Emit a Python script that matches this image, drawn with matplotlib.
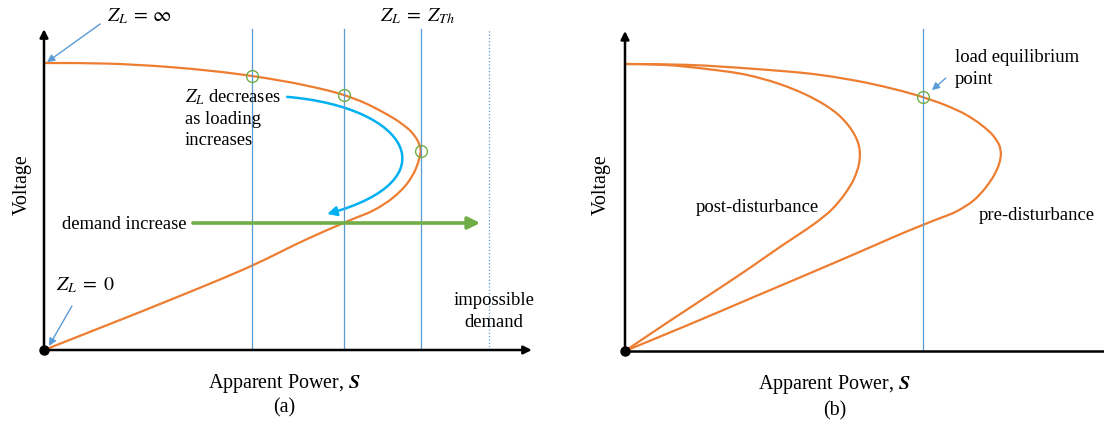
import numpy as np
import matplotlib
matplotlib.use('Agg')
import matplotlib.pyplot as plt
from matplotlib.path import Path
from matplotlib.patches import PathPatch, FancyArrowPatch

plt.rcParams['font.family'] = ['Liberation Serif', 'DejaVu Serif']
plt.rcParams['mathtext.fontset'] = 'stix'

ORANGE = '#ED7D31'
BLUE = '#5B9BD5'
GREEN = '#70AD47'
CYAN = '#00B0F0'

# PV (nose) curve, S and V in per-unit of the nose point / open-circuit voltage
pv_s = [0.0, 0.166, 0.342, 0.555, 0.697, 0.794, 0.847, 0.900,
        0.944, 0.975, 0.993, 0.999, 0.995, 0.984, 0.962, 0.927, 0.876, 0.815,
        0.760, 0.697, 0.555, 0.343, 0.166, 0.0]
pv_v = [1.0, 0.998, 0.985, 0.954, 0.921, 0.889, 0.863, 0.828,
        0.793, 0.759, 0.724, 0.698, 0.666, 0.625, 0.578, 0.532, 0.488, 0.454,
        0.423, 0.386, 0.296, 0.179, 0.086, 0.0]

# operating points marked on the upper branch
op_s = [0.553, 0.796, 0.999]
op_v = [0.955, 0.889, 0.695]
impossible_s = 1.180
demand_v = 0.4425

# panel (b): pre- and post-disturbance curves
pre_s = [0.0, 0.166, 0.342, 0.517, 0.650, 0.791, 0.853, 0.905, 0.948, 0.978,
         0.994, 0.997, 0.993, 0.980, 0.957, 0.925, 0.880, 0.820, 0.750,
         0.655, 0.560, 0.345, 0.166, 0.0]
pre_v = [1.0, 0.997, 0.983, 0.962, 0.932, 0.884, 0.855, 0.823, 0.785, 0.748,
         0.712, 0.685, 0.655, 0.615, 0.570, 0.525, 0.487, 0.455, 0.418,
         0.364, 0.310, 0.190, 0.090, 0.0]
post_s = [0.0, 0.104, 0.214, 0.323, 0.406, 0.494, 0.533, 0.566, 0.593, 0.611,
          0.621, 0.623, 0.621, 0.607, 0.583, 0.550, 0.503, 0.462, 0.415,
          0.335, 0.252, 0.119, 0.0]
post_v = [1.0, 0.997, 0.983, 0.962, 0.932, 0.884, 0.855, 0.823, 0.785, 0.748,
          0.712, 0.685, 0.655, 0.599, 0.547, 0.495, 0.444, 0.407, 0.366,
          0.293, 0.220, 0.105, 0.0]
eq_s = 0.790
eq_v = 0.886

W, H = 1104, 427
UX, UY = 377.0, 287.0  # pixels per unit


def smooth_path(xs, ys):
    # cubic bezier through every point; tangents from the parabola
    # through each point and its two neighbours
    p = np.column_stack([xs, ys]) * [UX, UY]
    n = len(p)
    seg = np.diff(p, axis=0)
    h = np.linalg.norm(seg, axis=1)
    u = seg / h[:, None]
    tang = np.empty_like(p)
    tang[0] = u[0]
    tang[-1] = u[-1]
    for i in range(1, n - 1):
        t = h[i - 1] * u[i] + h[i] * u[i - 1]
        tang[i] = t / np.linalg.norm(t)
    verts = [p[0]]
    codes = [Path.MOVETO]
    for i in range(n - 1):
        d = h[i] / 3
        verts += [p[i] + d * tang[i], p[i + 1] - d * tang[i + 1], p[i + 1]]
        codes += [Path.CURVE4] * 3
    return Path(np.array(verts) / [UX, UY], codes)


def make_axes(fig, ox, oy, xmax, ymax):
    ax = fig.add_axes([ox / W, (H - oy) / H, xmax * UX / W, ymax * UY / H])
    ax.set_xlim(0, xmax)
    ax.set_ylim(0, ymax)
    ax.axis('off')
    return ax


def draw_axes_arrows(ax, xend, yend, xhead=True):
    ax.annotate('', xy=(0, yend), xytext=(0, 0), annotation_clip=False,
                arrowprops=dict(arrowstyle='-|>', color='k', lw=1.8,
                                mutation_scale=12, shrinkA=0, shrinkB=0))
    if xhead:
        ax.annotate('', xy=(xend, 0), xytext=(0, 0), annotation_clip=False,
                    arrowprops=dict(arrowstyle='-|>', color='k', lw=1.8,
                                    mutation_scale=12, shrinkA=0, shrinkB=0))
    else:
        ax.plot([0, xend], [0, 0], color='k', lw=1.8, clip_on=False,
                solid_capstyle='butt')
    ax.plot(0, 0, 'o', color='k', ms=6.5, clip_on=False, zorder=6)


def pointer(ax, tip, tail):
    ax.annotate('', xy=tip, xytext=tail, annotation_clip=False,
                arrowprops=dict(arrowstyle='-|>', color=BLUE, lw=1.0,
                                mutation_scale=11, shrinkA=0, shrinkB=0))


fig = plt.figure(figsize=(W / 100, H / 100), dpi=100)
FS = 13.4

# ---- (a) ----
ax = make_axes(fig, 44, 351, 1.32, 1.13)
for s in op_s:
    ax.plot([s, s], [0, 1.118], color=BLUE, lw=0.9, clip_on=False)
ax.plot([impossible_s, impossible_s], [0, 1.118], color=BLUE, lw=0.9,
        ls=':', clip_on=False)
ax.add_patch(PathPatch(smooth_path(pv_s, pv_v), fill=False,
                       edgecolor=ORANGE, lw=1.6, clip_on=False))
ax.plot(op_s, op_v, 'o', mfc='none', mec=GREEN, ms=8.5, mew=1.0,
        clip_on=False, zorder=5)
draw_axes_arrows(ax, 1.294, 1.118)

ax.annotate('', xy=(1.157, demand_v), xytext=(0.395, demand_v),
            annotation_clip=False,
            arrowprops=dict(arrowstyle='-|>', color=GREEN, lw=2.6,
                            mutation_scale=18, shrinkA=0, shrinkB=0))
ax.text(0.379, demand_v, 'demand increase', ha='right', va='center',
        fontsize=FS)

curl = Path([(0.645, 0.882), (0.975, 0.845), (1.075, 0.590), (0.751, 0.474)],
            [Path.MOVETO, Path.CURVE4, Path.CURVE4, Path.CURVE4])
ax.add_patch(FancyArrowPatch(path=curl, arrowstyle='-|>', color=CYAN,
                             lw=1.8, mutation_scale=14, clip_on=False))
ax.text(0.374, 0.812, '$Z_L$ decreases\nas loading\nincreases', ha='left',
        va='center', fontsize=FS, linespacing=1.32)

ax.text(0.252, 1.164, r'$Z_L\:=\:\infty$', ha='center', va='center',
        fontsize=FS + 1)
pointer(ax, (0.008, 1.003), (0.149, 1.136))
ax.text(0.992, 1.164, r'$Z_L\;=\;Z_{Th}$', ha='center', va='center',
        fontsize=FS + 1)
ax.text(0.109, 0.230, r'$Z_L\;=\;0$', ha='center', va='center',
        fontsize=FS + 1)
pointer(ax, (0.013, 0.014), (0.074, 0.153))
ax.text(1.194, 0.138, 'impossible\ndemand', ha='center', va='center',
        fontsize=FS, linespacing=1.35)

ax.text(-0.058, 0.578, 'Voltage', rotation=90, ha='center', va='center',
        fontsize=FS + 1)
ax.text(0.637, -0.114, r'Apparent Power, $\mathbfit{S}$', ha='center',
        va='center', fontsize=FS + 1)
ax.text(0.637, -0.199, '(a)', ha='center', va='center', fontsize=FS + 1)

# ---- (b) ----
bx = make_axes(fig, 625, 352, 1.28, 1.12)
bx.plot([eq_s, eq_s], [0, 1.122], color=BLUE, lw=0.9, clip_on=False)
bx.add_patch(PathPatch(smooth_path(pre_s, pre_v), fill=False,
                       edgecolor=ORANGE, lw=1.6, clip_on=False))
bx.add_patch(PathPatch(smooth_path(post_s, post_v), fill=False,
                       edgecolor=ORANGE, lw=1.6, clip_on=False))
bx.plot([eq_s], [eq_v], 'o', mfc='none', mec=GREEN, ms=8.5, mew=1.0,
        clip_on=False, zorder=5)
draw_axes_arrows(bx, 1.30, 1.115, xhead=False)

bx.text(0.875, 0.988, 'load equilibrium\npoint', ha='left', va='center',
        fontsize=FS, linespacing=1.35)
pointer(bx, (0.814, 0.909), (0.851, 0.951))
bx.text(0.350, 0.502, 'post-disturbance', ha='center', va='center',
        fontsize=FS)
bx.text(1.093, 0.477, 'pre-disturbance', ha='center', va='center',
        fontsize=FS)

bx.text(-0.064, 0.582, 'Voltage', rotation=90, ha='center', va='center',
        fontsize=FS + 1)
bx.text(0.557, -0.114, r'Apparent Power, $\mathbfit{S}$', ha='center',
        va='center', fontsize=FS + 1)
bx.text(0.557, -0.206, '(b)', ha='center', va='center', fontsize=FS + 1)

fig.savefig('out.png', dpi=100)
